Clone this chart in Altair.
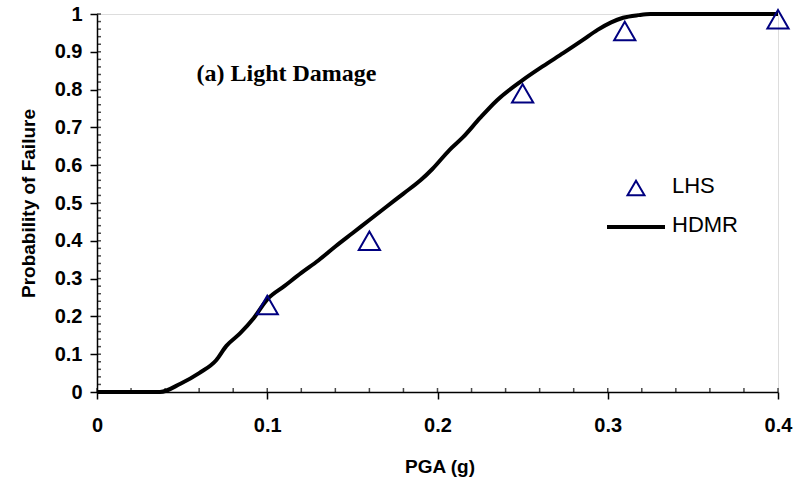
import altair as alt
import pandas as pd

# HDMR curve
hdmr_pga = [0, 0.037, 0.049, 0.06, 0.07, 0.076, 0.084, 0.092, 0.1, 0.11, 0.12, 0.13,
            0.14, 0.15, 0.16, 0.17, 0.18, 0.19, 0.197, 0.207, 0.215, 0.225, 0.235,
            0.25, 0.262, 0.274, 0.285, 0.294, 0.302, 0.309, 0.318, 0.325, 0.35, 0.4]
hdmr_pf = [0, 0, 0.022, 0.05, 0.084, 0.122, 0.155, 0.195, 0.245, 0.28, 0.315, 0.348,
           0.385, 0.42, 0.455, 0.49, 0.525, 0.56, 0.59, 0.64, 0.674, 0.725, 0.772,
           0.825, 0.862, 0.897, 0.93, 0.958, 0.978, 0.99, 0.997, 1.0, 1.0, 1.0]

# LHS samples
lhs_pga = [0.1, 0.16, 0.25, 0.31, 0.4]
lhs_pf = [0.23, 0.40, 0.79, 0.955, 0.986]

x_major = [0, 0.1, 0.2, 0.3, 0.4]
x_minor = [0, 0.02, 0.04, 0.06, 0.08, 0.1, 0.12, 0.14, 0.16, 0.18, 0.2, 0.22, 0.24,
           0.26, 0.28, 0.3, 0.32, 0.34, 0.36, 0.38, 0.4]
y_major = [0, 0.1, 0.2, 0.3, 0.4, 0.5, 0.6, 0.7, 0.8, 0.9, 1]
y_minor = [0, 0.02, 0.04, 0.06, 0.08, 0.1, 0.12, 0.14, 0.16, 0.18, 0.2, 0.22, 0.24,
           0.26, 0.28, 0.3, 0.32, 0.34, 0.36, 0.38, 0.4, 0.42, 0.44, 0.46, 0.48, 0.5,
           0.52, 0.54, 0.56, 0.58, 0.6, 0.62, 0.64, 0.66, 0.68, 0.7, 0.72, 0.74, 0.76,
           0.78, 0.8, 0.82, 0.84, 0.86, 0.88, 0.9, 0.92, 0.94, 0.96, 0.98, 1]

series_names = ["LHS", "HDMR"]
x_title = "PGA (g)"
y_title = "Probability of Failure"
annotation = "(a) Light Damage"

W, H = 681, 378
SANS = "Liberation Sans"
NAVY = "#000080"

hdmr_df = pd.DataFrame({"pga": hdmr_pga, "pf": hdmr_pf})
lhs_df = pd.DataFrame({"pga": lhs_pga, "pf": lhs_pf})

xs = alt.Scale(domain=[0, 0.4], nice=False, zero=False)
ys = alt.Scale(domain=[0, 1], nice=False, zero=False)

x_axis = alt.Axis(
    values=x_major, format=".1~f", grid=False,
    domainColor="black", domainWidth=1.5,
    tickColor="black", tickWidth=1.5, tickSize=7,
    labelFont=SANS, labelFontSize=20, labelFontWeight="bold", labelColor="black",
    labelPadding=16, labelFlush=False,
    title=x_title, titleFont=SANS, titleFontSize=19, titleFontWeight="bold",
    titleColor="black", titleX=W / 2 + 2, titleY=74, titleBaseline="middle",
    titleAlign="center")
y_axis = alt.Axis(
    values=y_major, format=".1~f", grid=False,
    domainColor="black", domainWidth=1.5,
    tickColor="black", tickWidth=1.5, tickSize=7,
    labelFont=SANS, labelFontSize=20, labelFontWeight="bold", labelColor="black",
    labelPadding=8, labelFlush=False, labelBaseline="middle",
    title=y_title, titleFont=SANS, titleFontSize=19, titleFontWeight="bold",
    titleColor="black", titleX=-69, titleY=H / 2, titleAngle=270,
    titleBaseline="middle", titleAlign="center")

X = lambda f: alt.X(f, scale=xs, axis=x_axis)
Y = lambda f: alt.Y(f, scale=ys, axis=y_axis)

x0 = x_major[0]
y0 = y_major[0]


# inward tick marks as path symbols (size=4 -> path units are pixels)
def ticks(pga, pf, path):
    df = pd.DataFrame({"pga": pga, "pf": pf})
    return alt.Chart(df).mark_point(shape=path, size=4, filled=False, color="black",
                                    strokeWidth=1.5).encode(
        x=X("pga:Q"), y=Y("pf:Q"))


x_min_t = ticks(x_minor, [y0] * len(x_minor), "M0,-4V0")
y_min_t = ticks([x0] * len(y_minor), y_minor, "M0,0H4")

line = alt.Chart(hdmr_df).mark_line(color="black", strokeWidth=4,
                                    interpolate="monotone").encode(
    x=X("pga:Q"), y=Y("pf:Q"))

points = alt.Chart(lhs_df).mark_point(shape="triangle-up", filled=False, color=NAVY,
                                      strokeWidth=2, size=450, opacity=1).encode(
    x=X("pga:Q"), y=Y("pf:Q"))

# legend drawn with marks
leg_df = pd.DataFrame({"name": series_names})
leg_tri = alt.Chart(leg_df).transform_filter(alt.datum.name == series_names[0]).mark_point(
    shape="triangle-up", filled=False, color=NAVY, strokeWidth=2, size=289, opacity=1
).encode(x=alt.value(539), y=alt.value(174))
leg_line = alt.Chart(leg_df).transform_filter(alt.datum.name == series_names[1]).mark_point(
    shape="M-1,0H1", filled=False, color="black", strokeWidth=4, size=3364, opacity=1
).encode(x=alt.value(539), y=alt.value(213))
leg_t1 = alt.Chart(leg_df).transform_filter(alt.datum.name == series_names[0]).mark_text(
    font=SANS, fontSize=22, color="black", align="left", baseline="middle"
).encode(text="name:N", x=alt.value(575), y=alt.value(172))
leg_t2 = alt.Chart(leg_df).transform_filter(alt.datum.name == series_names[1]).mark_text(
    font=SANS, fontSize=22, color="black", align="left", baseline="middle"
).encode(text="name:N", x=alt.value(575), y=alt.value(211))

label = alt.Chart(pd.DataFrame({"t": [annotation]})).mark_text(
    font="Liberation Serif", fontSize=24, fontWeight="bold", color="black",
    align="center", baseline="alphabetic").encode(
    text="t:N", x=alt.value(189.5), y=alt.value(67))

chart = alt.layer(x_min_t, y_min_t, line, points,
                  leg_tri, leg_line, leg_t1, leg_t2, label).properties(
    width=W, height=H, autosize=alt.AutoSizeParams(type="none"),
    padding={"left": 97, "top": 14, "right": 23, "bottom": 94},
)

chart.save("out.html", embed_options={"renderer": "svg", "actions": False})
